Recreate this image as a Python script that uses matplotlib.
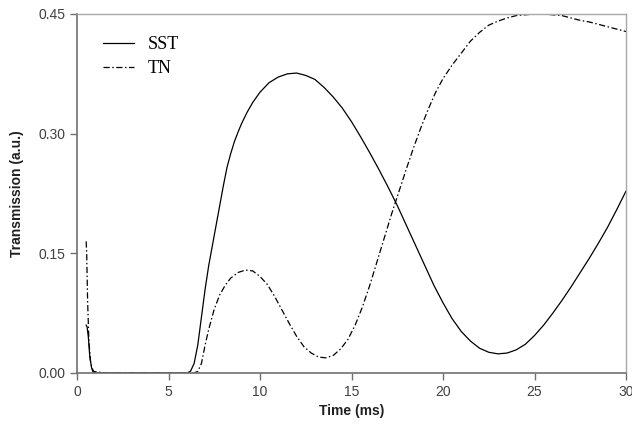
import matplotlib
matplotlib.use("Agg")
import matplotlib.pyplot as plt

# SST (solid) series
sst_t = [0.5, 0.55, 0.62, 0.7, 0.8, 0.9, 1.5, 3.0, 4.5, 5.5, 6.0, 6.2, 6.4, 6.6, 6.8, 7.0, 7.2, 7.4,
         7.6, 7.8, 8.0, 8.2, 8.4, 8.6, 8.8, 9.0, 9.3, 9.6, 10.0, 10.5, 11.0, 11.5, 12.0, 12.5,
         13.0, 13.5, 14.0, 14.5, 15.0, 15.5, 16.0, 16.5, 17.0, 17.5, 18.0, 18.5, 19.0, 19.5,
         20.0, 20.5, 21.0, 21.5, 22.0, 22.5, 23.0, 23.5, 24.0, 24.5, 25.0, 25.5, 26.0, 26.5,
         27.0, 27.5, 28.0, 28.5, 29.0, 29.5, 30.0]
sst_v = [0.06, 0.058, 0.045, 0.02, 0.006, 0.0, 0.0, 0.0, 0.0, 0.0, 0.0, 0.002, 0.012, 0.035, 0.07, 0.105,
         0.135, 0.16, 0.185, 0.21, 0.235, 0.258, 0.275, 0.29, 0.302, 0.313, 0.327, 0.339, 0.352,
         0.364, 0.371, 0.375, 0.376, 0.373, 0.368, 0.358, 0.346, 0.332, 0.315, 0.296, 0.276,
         0.255, 0.233, 0.21, 0.185, 0.16, 0.135, 0.11, 0.088, 0.068, 0.052, 0.04, 0.031, 0.026,
         0.024, 0.025, 0.029, 0.036, 0.047, 0.06, 0.075, 0.091, 0.108, 0.126, 0.144, 0.163,
         0.183, 0.205, 0.228]

# TN (dash-dot) series
tn_t = [0.5, 0.53, 0.58, 0.65, 0.75, 0.9, 1.5, 3.0, 4.5, 6.0, 6.4, 6.6, 6.8, 7.0, 7.2, 7.5, 7.8, 8.1,
        8.4, 8.8, 9.2, 9.6, 10.0, 10.4, 10.8, 11.2, 11.6, 12.0, 12.4, 12.8, 13.2, 13.6, 14.0,
        14.4, 14.8, 15.2, 15.6, 16.0, 16.4, 16.8, 17.2, 17.6, 18.0, 18.4, 18.8, 19.2, 19.6,
        20.0, 20.5, 21.0, 21.5, 22.0, 22.5, 23.0, 23.5, 24.0, 24.5, 25.0, 25.5, 26.0, 26.5,
        27.0, 27.5, 28.0, 28.5, 29.0, 29.5, 30.0]
tn_v = [0.165, 0.15, 0.09, 0.04, 0.012, 0.002, 0.0, 0.0, 0.0, 0.0, 0.0, 0.002, 0.012, 0.035, 0.055,
        0.08, 0.098, 0.11, 0.119, 0.126, 0.129, 0.128, 0.121, 0.111, 0.096, 0.079, 0.062, 0.046,
        0.033, 0.025, 0.02, 0.019, 0.022, 0.03, 0.042, 0.06, 0.083, 0.11, 0.14, 0.17, 0.2, 0.228,
        0.256, 0.283, 0.308, 0.331, 0.352, 0.369, 0.386, 0.401, 0.416, 0.427, 0.436, 0.441,
        0.445, 0.448, 0.449, 0.45, 0.45, 0.449, 0.448, 0.445, 0.442, 0.44, 0.437, 0.434, 0.431,
        0.428]

xticks = [0, 5, 10, 15, 20, 25, 30]
yticks = [0.00, 0.15, 0.30, 0.45]
ytick_labels = ["0.00", "0.15", "0.30", "0.45"]

fig = plt.figure(figsize=(6.32, 4.28), dpi=100)
ax = fig.add_axes([77/632, 55/428, (626-77)/632, (373-14)/428])

ax.plot(sst_t, sst_v, color="black", lw=0.9, label="SST")
ax.plot(tn_t, tn_v, color="black", lw=0.9, linestyle=(0, (5, 2, 1.2, 2)), label="TN")

ax.set_xlim(0, 30)
ax.set_ylim(0, 0.45)
ax.set_xticks(xticks)
ax.set_yticks(yticks)
ax.set_yticklabels(ytick_labels)

for s in ["left", "bottom"]:
    ax.spines[s].set_color("#707070")
    ax.spines[s].set_linewidth(1.2)
for s in ["top", "right"]:
    ax.spines[s].set_color("#a8a8a8")
    ax.spines[s].set_linewidth(1.0)

ax.tick_params(direction="out", length=5, width=1, color="#707070",
               labelsize=10, labelcolor="#404040")
for lab in ax.get_xticklabels() + ax.get_yticklabels():
    lab.set_family("Liberation Sans")

ax.set_xlabel("Time (ms)", fontsize=10, fontweight="bold", family="Liberation Sans",
              color="#202020", labelpad=4)
ax.set_ylabel("Transmission (a.u.)", fontsize=10, fontweight="bold", family="Liberation Sans",
              color="#202020", labelpad=10)

leg = ax.legend(loc="upper left", bbox_to_anchor=(0.017, 0.984), frameon=False,
                prop={"family": "Liberation Serif", "size": 13},
                handlelength=1.75, handletextpad=0.75, labelspacing=0.4)

fig.savefig("out.png", dpi=100)
